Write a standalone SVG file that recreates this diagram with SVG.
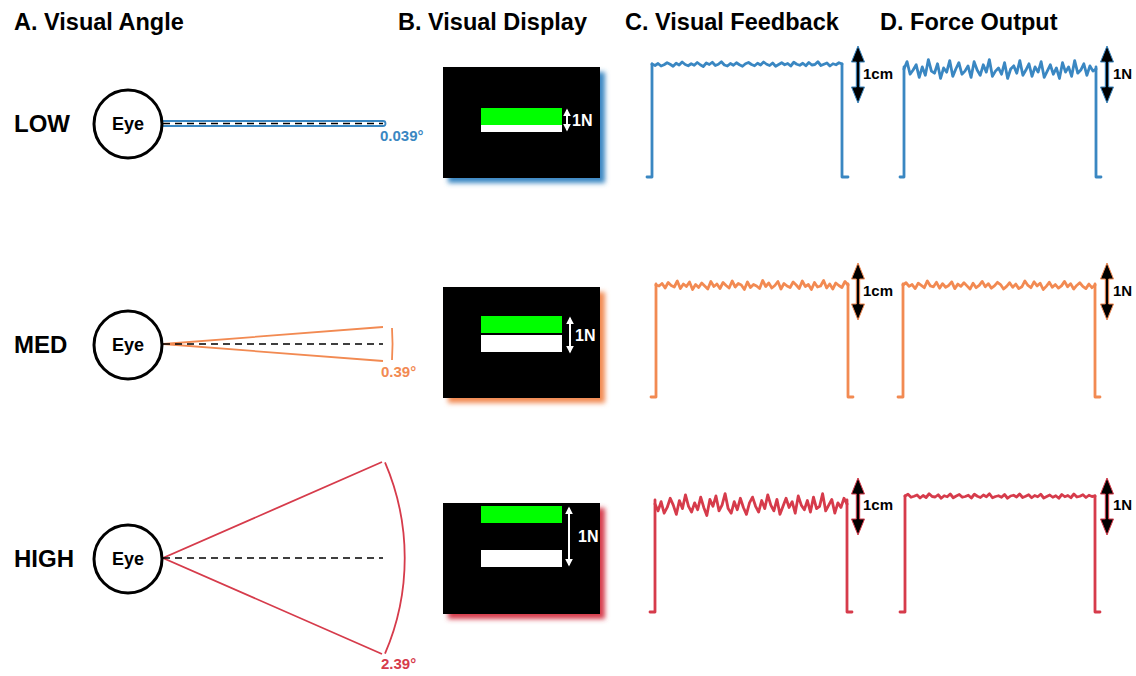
<svg xmlns="http://www.w3.org/2000/svg" xmlns:xlink="http://www.w3.org/1999/xlink" width="1136" height="676" viewBox="0 0 1136 676">
<style>
text{font-family:"Liberation Sans",Arial,sans-serif;font-weight:bold}
.title{font-size:23.5px;fill:#000}
.row{font-size:24px;fill:#000}
.eye{fill:#fff;stroke:#000;stroke-width:3}
.eyet{font-size:18px;text-anchor:middle}
.dash{stroke:#000;stroke-width:1.6;stroke-dasharray:7 5;fill:none}
.ang{font-size:15px}
.wl{fill:#fff;font-size:16px}
.bl{fill:#000;font-size:15px}
.tr{fill:none;stroke-width:2.8;stroke-linejoin:round;stroke-linecap:round}
.nz{vector-effect:non-scaling-stroke}
.warr{stroke:#fff;stroke-width:2;marker-start:url(#wh);marker-end:url(#wh)}
</style>
<defs>
<filter id="blur" x="-20%" y="-20%" width="140%" height="140%"><feGaussianBlur stdDeviation="2.5"/></filter>
<marker id="wh" viewBox="0 0 10 10" refX="8" refY="5" markerWidth="4" markerHeight="4" orient="auto-start-reverse"><path d="M0,0 L10,5 L0,10 Z" fill="#fff"/></marker>
<path id="arrK" d="M0,0 L-6.5,16 L-1.7,16 L-1.7,41 L-6.5,41 L0,57 L6.5,41 L1.7,41 L1.7,16 L6.5,16 Z" fill="#000"/>
<path id="n1" class="nz" d="M0,0 L1,6 2,-2 3,8 4,3 5,-5 6,1 7,9 8,-3 9,4 10,-8 11,2 12,7 13,-1 14,5 15,-6 16,3 17,10 18,-4 19,2 20,-7 21,6 22,1 23,-9 24,4 25,8 26,-2 27,5 28,-5 29,3 30,9 31,-1 32,-6 33,2 34,7 35,-3 36,4 37,-8 38,1 39,6 40,-4 41,9 42,2 43,-5 44,3 45,-2 46,8 47,-7 48,1 49,5 50,-3 51,7 52,-6 53,4 54,2 55,-9 56,6 57,1 58,-4 59,8 60,-1 61,3 62,-5 63,0"/>
<path id="n2" class="nz" d="M0,0 L1,-7 2,5 3,1 4,-4 5,8 6,-2 7,6 8,-9 9,2 10,4 11,-5 12,9 13,-1 14,3 15,-8 16,7 17,0 18,-6 19,5 20,2 21,-3 22,8 23,-7 24,1 25,6 26,-4 27,3 28,-9 29,7 30,2 31,-1 32,5 33,-6 34,9 35,0 36,-3 37,4 38,-8 39,6 40,1 41,-5 42,7 43,-2 44,3 45,-7 46,8 47,2 48,-4 49,5 50,-1 51,9 52,-6 53,3 54,-2 55,7 56,-8 57,4 58,1 59,-5 60,6 61,-3 62,2 63,0"/>
</defs>
<rect width="1136" height="676" fill="#fff"/>

<g id="titles">
<text class="title" x="14" y="30">A. Visual Angle</text>
<text class="title" x="398" y="30">B. Visual Display</text>
<text class="title" x="625" y="30">C. Visual Feedback</text>
<text class="title" x="880" y="30">D. Force Output</text>
</g>

<g id="row-labels">
<text class="row" x="14" y="132">LOW</text>
<text class="row" x="14" y="353">MED</text>
<text class="row" x="14" y="567">HIGH</text>
</g>

<g id="connectors">
<path d="M163,121 H383 a2.5,2.5 0 0 1 0,5 H163" fill="none" stroke="#3a87c2" stroke-width="1.8"/>
<line class="dash" x1="163" y1="123.5" x2="383" y2="123.5"/>
<path d="M383,327 L163,344 L383,361" fill="none" stroke="#f28a52" stroke-width="1.8"/>
<line class="dash" x1="163" y1="344" x2="383" y2="344"/>
<path d="M392,328 A230,230 0 0 1 392,360" fill="none" stroke="#f28a52" stroke-width="1.8"/>
<path d="M382,462 L163,558 L382,654" fill="none" stroke="#d63b4b" stroke-width="1.8"/>
<line class="dash" x1="163" y1="558" x2="383" y2="558"/>
<path d="M385,462.3 A242,242 0 0 1 385,653.7" fill="none" stroke="#d63b4b" stroke-width="1.8"/>
</g>

<g id="eye-low"><circle class="eye" cx="128" cy="124" r="34"/><text class="eyet" x="128" y="130">Eye</text></g>
<g id="eye-med"><circle class="eye" cx="128" cy="345" r="34"/><text class="eyet" x="128" y="351">Eye</text></g>
<g id="eye-high"><circle class="eye" cx="128" cy="559" r="34"/><text class="eyet" x="128" y="565">Eye</text></g>

<g id="angle-labels">
<text class="ang" x="380" y="141" fill="#3a87c2">0.039°</text>
<text class="ang" x="381" y="377" fill="#f28a52">0.39°</text>
<text class="ang" x="381" y="669" fill="#d63b4b">2.39°</text>
</g>

<g id="display-low">
<rect x="448" y="72" width="157" height="111" fill="#3a87c2" filter="url(#blur)"/>
<rect x="443" y="67" width="157" height="111" fill="#000"/>
<rect x="481" y="108" width="81" height="17" fill="#00ff00"/>
<rect x="481" y="125" width="81" height="7" fill="#fff"/>
<line class="warr" x1="567" y1="110" x2="567" y2="130"/>
<text class="wl" x="572" y="126">1N</text>
</g>
<g id="display-med">
<rect x="448" y="292" width="157" height="111" fill="#f28a52" filter="url(#blur)"/>
<rect x="443" y="287" width="157" height="111" fill="#000"/>
<rect x="481" y="316" width="81" height="17" fill="#00ff00"/>
<rect x="481" y="335" width="81" height="17" fill="#fff"/>
<line class="warr" x1="570" y1="318" x2="570" y2="352"/>
<text class="wl" x="575" y="341">1N</text>
</g>
<g id="display-high">
<rect x="448" y="508" width="157" height="111" fill="#d63b4b" filter="url(#blur)"/>
<rect x="443" y="503" width="157" height="111" fill="#000"/>
<rect x="481" y="506" width="81" height="17" fill="#00ff00"/>
<rect x="481" y="550" width="81" height="17" fill="#fff"/>
<line class="warr" x1="569" y1="508" x2="569" y2="565"/>
<text class="wl" x="578" y="542">1N</text>
</g>

<g id="feedback-low" stroke="#3a87c2">
<path class="tr" d="M647,177 H652 V64 M842,64 V177 H848"/>
<use href="#n1" class="tr" transform="translate(652,64) scale(3.016,0.25)"/>
<use href="#arrK" transform="translate(858,46)"/>
<text class="bl" x="863" y="79" stroke="none">1cm</text>
</g>
<g id="force-low" stroke="#3a87c2">
<path class="tr" d="M900,177 H904 V67 M1096,67 V177 H1101"/>
<use href="#n2" class="tr" transform="translate(904,69) scale(3.048,1.05)"/>
<use href="#arrK" transform="translate(1107,46)"/>
<text class="bl" x="1113" y="79" stroke="none">1N</text>
</g>

<g id="feedback-med" stroke="#f28a52">
<path class="tr" d="M651,397 H656 V284 M848,284 V397 H853"/>
<use href="#n2" class="tr" transform="translate(848,285) scale(-3.048,0.5)"/>
<use href="#arrK" transform="translate(858,263)"/>
<text class="bl" x="863" y="296" stroke="none">1cm</text>
</g>
<g id="force-med" stroke="#f28a52">
<path class="tr" d="M898,397 H903 V284 M1095,284 V397 H1100"/>
<use href="#n1" class="tr" transform="translate(1095,285) scale(-3.048,0.45)"/>
<use href="#arrK" transform="translate(1107,263)"/>
<text class="bl" x="1113" y="296" stroke="none">1N</text>
</g>

<g id="feedback-high" stroke="#d63b4b">
<path class="tr" d="M650,612 H655 V500 M847,500 V612 H852"/>
<use href="#n1" class="tr" transform="translate(655,504) scale(3.048,1.15)"/>
<use href="#arrK" transform="translate(858,478)"/>
<text class="bl" x="863" y="510" stroke="none">1cm</text>
</g>
<g id="force-high" stroke="#d63b4b">
<path class="tr" d="M900,612 H905 V496 M1095,496 V612 H1100"/>
<use href="#n2" class="tr" transform="translate(905,496) scale(3.016,0.25)"/>
<use href="#arrK" transform="translate(1107,478)"/>
<text class="bl" x="1113" y="510" stroke="none">1N</text>
</g>
</svg>
